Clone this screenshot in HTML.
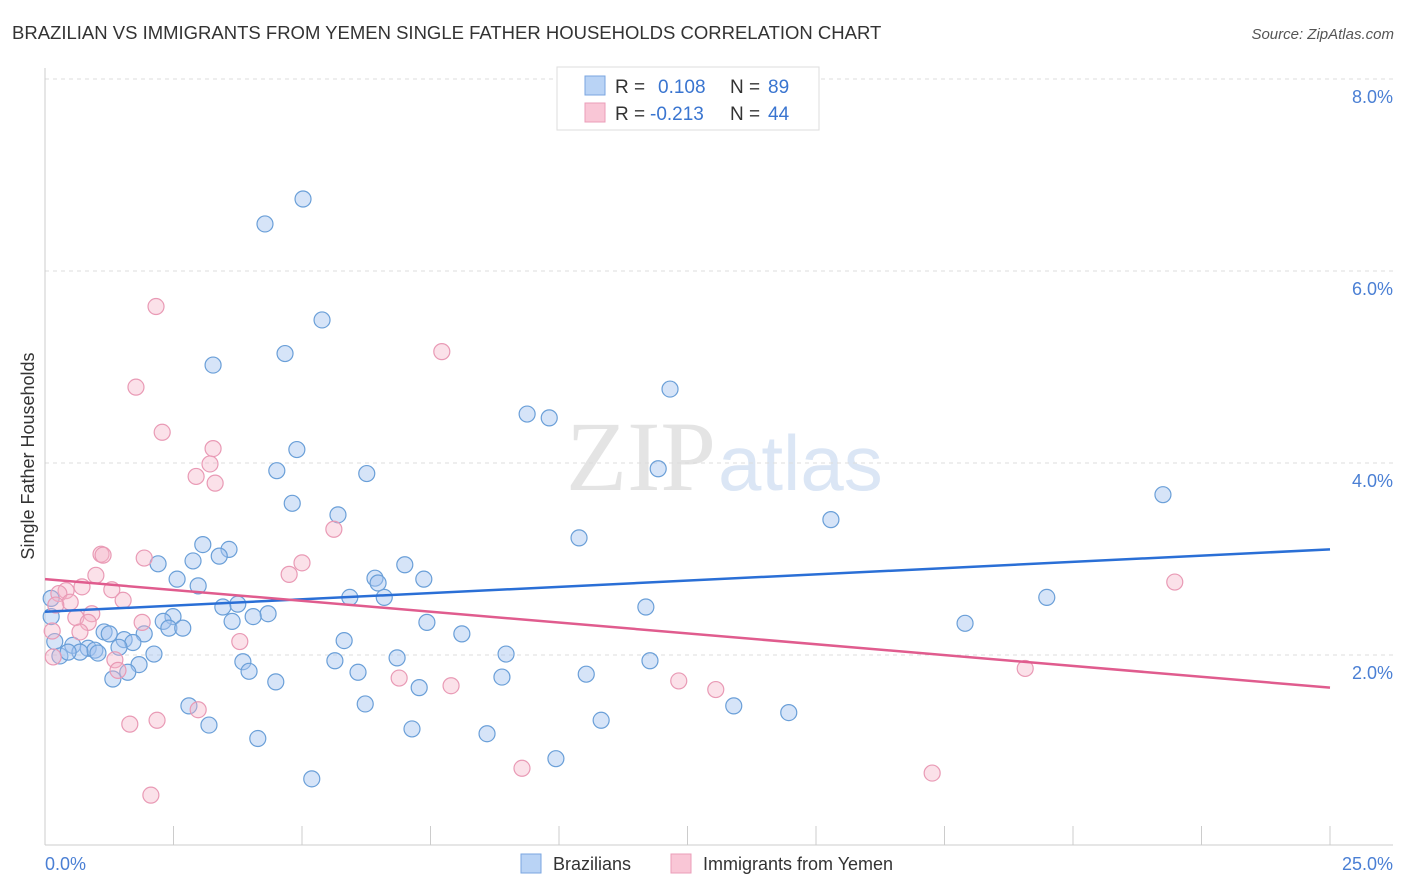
<!DOCTYPE html>
<html><head><meta charset="utf-8"><style>
body{margin:0;background:#fff;font-family:"Liberation Sans",sans-serif;}
svg{display:block}
</style></head><body>
<svg id="chart" width="1406" height="892">
<text x="12" y="39" font-size="18.5" fill="#333">BRAZILIAN VS IMMIGRANTS FROM YEMEN SINGLE FATHER HOUSEHOLDS CORRELATION CHART</text>
<text x="1394" y="39" font-size="15" fill="#555" font-style="italic" text-anchor="end">Source: ZipAtlas.com</text>
<text x="716" y="490" font-size="100" fill="#e4e4e4" text-anchor="end" font-family="Liberation Serif">ZIP</text>
<text x="718" y="490" font-size="78" fill="#dbe6f5">atlas</text>
<g id="grid"></g>
<g id="axes"></g>
<g id="pts"></g>
<g id="trends"></g>
<text transform="translate(34,456) rotate(-90)" font-size="18" fill="#333" text-anchor="middle">Single Father Households</text>
<text x="45" y="870" font-size="18" fill="#4a7fd4">0.0%</text>
<text x="1393" y="870" font-size="18" fill="#4a7fd4" text-anchor="end">25.0%</text>
<g>
<rect x="557" y="67" width="262" height="63" fill="#fff" stroke="#ddd"/>
<rect x="585" y="76" width="20" height="19" fill="#b9d3f5" stroke="#7aa6e0"/>
<rect x="585" y="103" width="20" height="19" fill="#f9c6d6" stroke="#eb9db8"/>
<text x="615" y="93" font-size="19" fill="#333">R =</text>
<text x="658" y="93" font-size="19" fill="#3a75d0">0.108</text>
<text x="730" y="93" font-size="19" fill="#333">N =</text>
<text x="768" y="93" font-size="19" fill="#3a75d0">89</text>
<text x="615" y="120" font-size="19" fill="#333">R =</text>
<text x="650" y="120" font-size="19" fill="#3a75d0">-0.213</text>
<text x="730" y="120" font-size="19" fill="#333">N =</text>
<text x="768" y="120" font-size="19" fill="#3a75d0">44</text>
</g>
<g>
<rect x="521" y="854" width="20" height="19" fill="#b9d3f5" stroke="#7aa6e0"/>
<text x="553" y="870" font-size="18" fill="#333">Brazilians</text>
<rect x="671" y="854" width="20" height="19" fill="#f9c6d6" stroke="#eb9db8"/>
<text x="703" y="870" font-size="18" fill="#333">Immigrants from Yemen</text>
</g>
</svg>
<script>
const yTicks=[2,4,6,8];
const yTickLabels=["2.0%","4.0%","6.0%","8.0%"];
const xTicks=[0,2.5,5,7.5,10,12.5,15,17.5,20,22.5,25];
const blueX=[5.02,4.28,5.39,4.67,3.27,12.16,9.38,9.81,4.90,4.51,6.26,11.93,4.81,5.70,21.75,15.29,10.39,3.07,3.58,3.39,2.88,2.20,7.00,2.57,6.42,6.48,7.37,2.98,5.93,6.60,19.49,3.75,3.46,11.69,4.34,4.05,3.64,2.49,2.30,2.41,2.68,7.43,17.90,0.12,0.12,1.93,1.15,1.25,1.54,1.71,2.12,8.11,5.82,0.19,0.54,0.84,0.97,0.68,0.29,0.45,1.03,1.44,3.85,1.83,5.64,6.85,8.97,11.77,3.97,6.09,1.32,1.61,4.49,7.28,8.89,10.53,2.80,6.23,13.40,14.47,10.82,3.19,7.14,8.60,4.14,9.94,5.19];
const blueY=[6.75,6.49,5.49,5.14,5.02,4.77,4.51,4.47,4.14,3.92,3.89,3.94,3.58,3.46,3.67,3.41,3.22,3.15,3.10,3.03,2.98,2.95,2.94,2.79,2.80,2.75,2.79,2.72,2.60,2.60,2.60,2.53,2.50,2.50,2.43,2.40,2.35,2.40,2.35,2.28,2.28,2.34,2.33,2.59,2.40,2.22,2.24,2.22,2.16,2.13,2.01,2.22,2.15,2.14,2.10,2.07,2.05,2.03,1.99,2.03,2.02,2.08,1.93,1.90,1.94,1.97,2.01,1.94,1.83,1.82,1.75,1.82,1.72,1.66,1.77,1.80,1.47,1.49,1.47,1.40,1.32,1.27,1.23,1.18,1.13,0.92,0.71];
const pinkX=[2.16,7.72,1.77,2.28,3.27,3.21,2.94,3.31,5.62,1.09,1.13,1.93,5.00,0.99,4.75,0.72,1.30,21.98,0.41,0.27,0.49,1.52,0.21,0.91,0.60,0.84,1.89,0.68,0.14,3.79,1.36,0.16,1.42,6.89,7.90,12.33,13.05,19.07,2.98,1.65,2.18,9.28,17.26,2.06];
const pinkY=[5.63,5.16,4.79,4.32,4.15,3.99,3.86,3.79,3.31,3.05,3.04,3.01,2.96,2.83,2.84,2.71,2.68,2.76,2.67,2.64,2.55,2.57,2.52,2.43,2.39,2.34,2.34,2.24,2.25,2.14,1.95,1.98,1.84,1.76,1.68,1.73,1.64,1.86,1.43,1.28,1.32,0.82,0.77,0.54];
const blueTrend=[2.45,3.10];
const pinkTrend=[2.79,1.66];
const NS="http://www.w3.org/2000/svg";
const sx=v=>45+v/25*1285, sy=v=>847-v*96;
function mk(tag,attrs,parent){const e=document.createElementNS(NS,tag);for(const k in attrs)e.setAttribute(k,attrs[k]);document.getElementById(parent).appendChild(e);return e;}
yTicks.forEach((t,i)=>{
 const l=mk('line',{x1:45,x2:1393,y1:sy(t),y2:sy(t),stroke:'#ddd','stroke-dasharray':'4,4'},'grid');
 
 
 const tx=mk('text',{x:1393,y:sy(t)+24,'font-size':18,fill:'#4a7fd4','text-anchor':'end'},'grid');
 tx.textContent=yTickLabels[i];
 
 
});
const ax=mk('line',{x1:45,x2:45,y1:68,y2:845,stroke:'#ccc'},'axes');


const bx=mk('line',{x1:45,x2:1393,y1:845,y2:845,stroke:'#ccc'},'axes');


xTicks.forEach(t=>{const l=mk('line',{x1:sx(t),x2:sx(t),y1:826,y2:845,stroke:'#ccc'},'axes');
 
 });
blueX.forEach((v,i)=>{const c=mk('circle',{cx:sx(v),cy:sy(blueY[i]),r:8,fill:'rgba(164,196,240,0.45)',stroke:'#6a9fd8','stroke-width':1.2},'pts');
 
 });
pinkX.forEach((v,i)=>{const c=mk('circle',{cx:sx(v),cy:sy(pinkY[i]),r:8,fill:'rgba(245,180,200,0.4)',stroke:'#e99ab5','stroke-width':1.2},'pts');
 
 });
const t1=mk('line',{x1:sx(0),x2:sx(25),y1:sy(blueTrend[0]),y2:sy(blueTrend[1]),stroke:'#2a6fd6','stroke-width':2.5},'trends');


const t2=mk('line',{x1:sx(0),x2:sx(25),y1:sy(pinkTrend[0]),y2:sy(pinkTrend[1]),stroke:'#e05c8e','stroke-width':2.5},'trends');


</script>
</body></html>
